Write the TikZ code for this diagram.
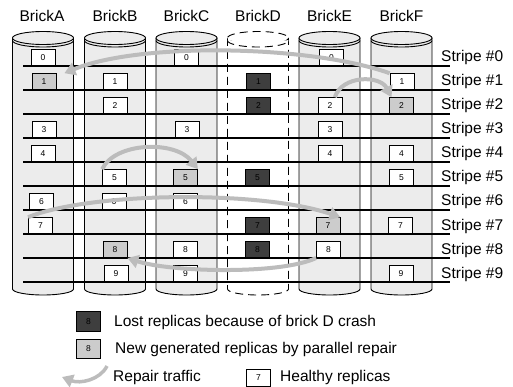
\documentclass[tikz,border=0pt]{standalone}
\usepackage{fontspec}
\setmainfont{Liberation Sans}
\usetikzlibrary{arrows.meta}
\definecolor{brickgray}{RGB}{236,236,236}
\definecolor{lostgray}{RGB}{62,62,62}
\definecolor{newgray}{RGB}{204,204,204}
\definecolor{trafficgray}{RGB}{188,188,188}

\tikzset{
  healthy/.style={draw, fill=white, line width=0.8pt, minimum width=24pt,
    minimum height=16pt, inner sep=0pt, anchor=south,
    font=\fontsize{8.5}{10}\selectfont},
  lost/.style={healthy, fill=lostgray, text=black},
  newrep/.style={healthy, fill=newgray},
  repair/.style={draw=trafficgray, line width=4pt,
    -{Triangle[length=11pt,width=13pt]}},
  stripeline/.style={line width=1.2pt},
  bricklabel/.style={anchor=base, inner sep=0pt, font=\fontsize{15.5}{18}\selectfont},
  stripelabel/.style={anchor=base west, inner sep=0pt, font=\fontsize{15.5}{18}\selectfont},
  keytext/.style={anchor=west, inner sep=0pt, font=\fontsize{15.5}{18}\selectfont}
}

% one brick drawn as a cylinder, #2 = centre x
\newcommand{\brickcyl}[2][]{%
  \fill[brickgray, #1] (#2-30.5,38) -- (#2-30.5,289)
    arc[start angle=180, end angle=0, x radius=30.5, y radius=6] -- (#2+30.5,38) -- cycle;
  \draw[line width=0.9pt, #1] (#2-30.5,38) -- (#2-30.5,289)
    arc[start angle=180, end angle=0, x radius=30.5, y radius=6] -- (#2+30.5,38);
  \filldraw[fill=brickgray, line width=0.9pt, #1] (#2,38) ellipse [x radius=30.5, y radius=6.5];
  \draw[line width=0.9pt, #1] (#2-30.5,40.5)
    arc[start angle=180, end angle=0, x radius=30.5, y radius=6.5];
}

\begin{document}
\begin{tikzpicture}[x=1pt, y=-1pt]
  \useasboundingbox (0,0) rectangle (513,387);

  % bricks
  \brickcyl{43}
  \brickcyl{115}
  \brickcyl{186.5}
  \brickcyl[fill=white, dash pattern=on 8pt off 5pt]{258}
  \brickcyl{329.5}
  \brickcyl{401.5}

  \node[bricklabel] (labA) at (42,22) {BrickA};
  \node[bricklabel] (labB) at (115,22) {BrickB};
  \node[bricklabel] (labC) at (186.5,22) {BrickC};
  \node[bricklabel] (labD) at (258,22) {BrickD};
  \node[bricklabel] (labE) at (329.5,22) {BrickE};
  \node[bricklabel] (labF) at (401.5,22) {BrickF};

  % stripes
  \foreach \r in {0,...,9}{
    \draw[stripeline] (23,66+24*\r) -- (450,66+24*\r);
    \node[stripelabel] (s\r) at (441,62+24*\r) {Stripe \#\r};
  }

  % BrickA
  \node[healthy] (a0) at (43,66) {0};
  \node[newrep]  (a1) at (44,90) {1};
  \node[healthy] (a3) at (44,138) {3};
  \node[healthy] (a4) at (43,162) {4};
  \node[healthy] (a6) at (41.5,210) {6};
  \node[healthy] (a7) at (40.5,234) {7};

  % BrickB
  \node[healthy] (b1) at (115,90) {1};
  \node[healthy] (b2) at (115,114) {2};
  \node[healthy] (b5) at (114.5,186) {5};
  \node[healthy] (b6) at (114,210) {6};
  \node[newrep]  (b8) at (115,258) {8};
  \node[healthy] (b9) at (116,282) {9};

  % BrickC
  \node[healthy] (c0) at (186.5,66) {0};
  \node[healthy] (c3) at (187,138) {3};
  \node[newrep]  (c5) at (185.5,186) {5};
  \node[healthy] (c6) at (185.5,210) {6};
  \node[healthy] (c8) at (185.5,258) {8};
  \node[healthy] (c9) at (185.5,282) {9};

  % BrickD (crashed)
  \node[lost] (d1) at (258.5,90) {1};
  \node[lost] (d2) at (258.5,114) {2};
  \node[lost] (d5) at (257.5,186) {5};
  \node[lost] (d7) at (257.5,234) {7};
  \node[lost] (d8) at (257.5,258) {8};

  % BrickE
  \node[healthy] (e0) at (331.5,66) {0};
  \node[healthy] (e2) at (330,114) {2};
  \node[healthy] (e3) at (330,138) {3};
  \node[healthy] (e4) at (330,162) {4};
  \node[newrep]  (e7) at (328,234) {7};
  \node[healthy] (e8) at (328.5,258) {8};

  % BrickF
  \node[healthy] (f1) at (402,90) {1};
  \node[newrep]  (f2) at (401.5,114) {2};
  \node[healthy] (f4) at (401.5,162) {4};
  \node[healthy] (f5) at (401.5,186) {5};
  \node[healthy] (f7) at (400.5,234) {7};
  \node[healthy] (f9) at (401,282) {9};

  % Repair traffic
  \draw[repair] (f1.north west) .. controls (310,45) and (140,42) .. ([xshift=8pt]a1.north east);
  \draw[repair] (e2.60) .. controls (342,75) and (380,75) .. (f2.140);
  \draw[repair] (b5.north west) .. controls (115,142) and (175,140) .. (c5.north east);
  \draw[repair] (a7.north west) .. controls (90,192) and (260,190) .. (e7.north east);
  \draw[repair] (e8.south west) .. controls (280,275) and (170,272) .. (b8.south east);

  % Legend
  \node[lost, anchor=north west, minimum height=20pt] (klost) at (76,311) {8};
  \node[keytext] (tlost) at (114,322) {Lost replicas because of brick D crash};
  \node[newrep, anchor=north west, minimum height=19pt] (knew) at (76,339) {8};
  \node[keytext] (tnew) at (115,349) {New generated replicas by parallel repair};
  \coordinate (krs) at (107,366);
  \coordinate (kre) at (62,377);
  \draw[repair, line width=3.5pt] (krs) .. controls (100,380) and (80,384) .. (kre);
  \node[keytext] (trep) at (113,377) {Repair traffic};
  \node[healthy, anchor=north west, minimum height=17pt] (kheal) at (246,369) {7};
  \node[keytext] (theal) at (280,377) {Healthy replicas};
\end{tikzpicture}
\end{document}
